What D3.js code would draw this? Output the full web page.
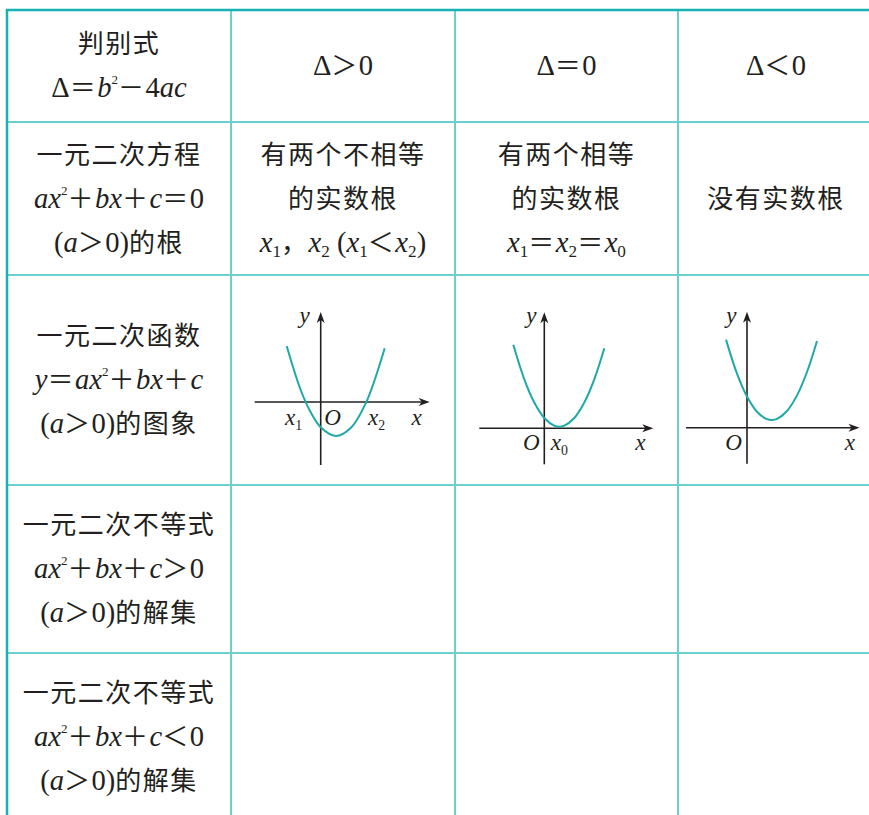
<!DOCTYPE html>
<html><head><meta charset="utf-8">
<script src="https://cdn.jsdelivr.net/npm/d3@7"></script>
<style>html,body{margin:0;padding:0;background:#fff;}svg{display:block;}</style>
</head><body>
<script>
// ---------- data ----------
const rowHeaders = [
  ["判别式", "Δ＝b^2－4ac"],
  ["一元二次方程", "ax^2＋bx＋c＝0", "(a＞0)的根"],
  ["一元二次函数", "y＝ax^2＋bx＋c", "(a＞0)的图象"],
  ["一元二次不等式", "ax^2＋bx＋c＞0", "(a＞0)的解集"],
  ["一元二次不等式", "ax^2＋bx＋c＜0", "(a＞0)的解集"]
];
const colHeaders = ["Δ＞0", "Δ＝0", "Δ＜0"];
const rootTexts = [
  ["有两个不相等", "的实数根", "x_1，x_2 (x_1＜x_2)"],
  ["有两个相等", "的实数根", "x_1＝x_2＝x_0"],
  ["没有实数根"]
];
// parabola points (axis units)
const curve1 = [[-3.4,5.6],[-2,1.2],[-1,-1.03],[0,-2.53],[1.5,-3.4],[3,-2.6],[4.5,-0.14],[6.4,5.38]];
const curve2 = [[-3.1,8.35],[-2,4.9],[-1,2.58],[0,1.03],[1,0.26],[1.5,0.16],[2,0.26],[3,1.03],[4,2.58],[5,4.9],[6,8.0]];
const curve3 = [[-2.1,8.81],[-1,5.41],[0,3.12],[1,1.6],[2,0.85],[2.5,0.77],[3,0.88],[4,1.67],[5,3.23],[6,5.57],[7,8.67]];
const curves = [curve1, curve2, curve3];
// axis extents (axis units)
const xExtents = [[-6.6,10.9],[-6.5,10.9],[-6.1,11.25]];
const yExtents = [[-6.3,9.0],[-3.6,11.6],[-3.6,11.6]];
// axis labels: [text, x, y] in axis units
const axisLabels = [
  [["y",-1.6,7.9],["x_1",-2.7,-2.3],["O",1.2,-2.3],["x_2",5.6,-2.3],["x",9.6,-2.3]],
  [["y",-1.3,10.5],["O",-1.3,-2.2],["x_0",1.5,-2.2],["x",9.6,-2.2]],
  [["y",-1.55,10.5],["O",-1.35,-2.2],["x",10.3,-2.2]]
];

// ---------- layout ----------
const W = 869, H = 815;
const colX = [7, 231, 455, 678, 874];
const rowY = [10, 122, 275, 485, 653, 821];
const lineGap = 44, fontSize = 26;
const ink = "#231f20";
const origins = [[320.7,402],[544.3,428.3],[747,427.7]];
const unit = 10;

const svg = d3.select("body").append("svg").attr("width", W).attr("height", H);

function cls(ch){
  if (/[a-zA-Z]/.test(ch)) return "it";
  if (/[0-9Δ() ]/.test(ch)) return "rm";
  return "cjk";
}
function rich(parent, x, y, str, size, opts={}){
  const t = parent.append("text").attr("x", x).attr("y", y)
    .attr("text-anchor", opts.anchor || "middle")
    .attr("fill", ink).style("font-size", size + "px");
  let off = 0, i = 0;
  const segs = [];
  while (i < str.length){
    const ch = str[i];
    if (ch === "^" || ch === "_"){
      segs.push({text: str[i+1], kind: ch === "^" ? "sup" : "sub"});
      i += 2; continue;
    }
    const k = cls(ch);
    const last = segs[segs.length-1];
    if (last && last.kind === k) last.text += ch; else segs.push({text: ch, kind: k});
    i++;
  }
  const ms = opts.mathScale || 1.1;
  segs.forEach(s => {
    const ts = t.append("tspan").text(s.text);
    let target = 0;
    if (s.kind === "sup"){ target = -0.5*size; ts.style("font-size", (0.5*size)+"px").style("font-family","Liberation Serif"); }
    else if (s.kind === "sub"){ target = 0.22*size; ts.style("font-size", (0.66*size)+"px").style("font-family","Liberation Serif"); }
    else if (s.kind === "it"){ ts.style("font-family","Liberation Serif").style("font-style","italic").style("font-size",(ms*size)+"px"); }
    else if (s.kind === "rm"){ ts.style("font-family","Liberation Serif").style("font-size",(ms*size)+"px").style("white-space","pre"); }
    else { ts.style("font-family","'Noto Sans CJK SC'").style("letter-spacing", opts.ls != null ? opts.ls+"px" : "1.5px"); }
    if (target !== off){ ts.attr("dy", target - off); off = target; }
  });
  return t;
}
function cellLines(cx, cy, lines){
  lines.forEach((s, i) => {
    const c = cy + (i - (lines.length-1)/2) * lineGap;
    rich(svg, cx, c + 9, s, fontSize);
  });
}

// grid
const grid = svg.append("g");
colX.slice(1,4).forEach(x => grid.append("line").attr("x1",x).attr("x2",x).attr("y1",rowY[0]).attr("y2",rowY[5])
  .attr("stroke","#6ccfcf").attr("stroke-width",2));
rowY.slice(1,5).forEach(y => grid.append("line").attr("x1",colX[0]).attr("x2",colX[4]).attr("y1",y).attr("y2",y)
  .attr("stroke","#6ccfcf").attr("stroke-width",2));
grid.append("line").attr("x1",colX[0]-1.25).attr("x2",colX[4]).attr("y1",rowY[0]).attr("y2",rowY[0]).attr("stroke","#14b2b2").attr("stroke-width",2.5);
grid.append("line").attr("x1",colX[0]).attr("x2",colX[0]).attr("y1",rowY[0]).attr("y2",rowY[5]).attr("stroke","#14b2b2").attr("stroke-width",2.5);

rowHeaders.forEach((lines, r) => cellLines((colX[0]+colX[1])/2, (rowY[r]+rowY[r+1])/2, lines));
colHeaders.forEach((s, c) => cellLines((colX[c+1]+colX[c+2])/2, (rowY[0]+rowY[1])/2, [s]));
rootTexts.forEach((lines, c) => cellLines((colX[c+1]+colX[c+2])/2, (rowY[1]+rowY[2])/2, lines));

function arrowPath(x, y, dir){
  const L = 11, w = 4, back = 8;
  if (dir === "right") return `M${x},${y} L${x-L},${y-w} L${x-back},${y} L${x-L},${y+w} Z`;
  return `M${x},${y} L${x-w},${y+L} L${x},${y+back} L${x+w},${y+L} Z`;
}
curves.forEach((pts, g) => {
  const [ox, oy] = origins[g];
  const xs = d3.scaleLinear().domain([0,1]).range([ox, ox+unit]);
  const ys = d3.scaleLinear().domain([0,1]).range([oy, oy-unit]);
  const gg = svg.append("g");
  const [xa, xb] = xExtents[g], [ya, yb] = yExtents[g];
  gg.append("line").attr("x1", xs(xa)).attr("x2", xs(xb)-6).attr("y1", ys(0)).attr("y2", ys(0)).attr("stroke", ink).attr("stroke-width", 1.6);
  gg.append("path").attr("d", arrowPath(xs(xb), ys(0), "right")).attr("fill", ink);
  gg.append("line").attr("x1", xs(0)).attr("x2", xs(0)).attr("y1", ys(ya)).attr("y2", ys(yb)+6).attr("stroke", ink).attr("stroke-width", 1.6);
  gg.append("path").attr("d", arrowPath(xs(0), ys(yb), "up")).attr("fill", ink);
  const line = d3.line().x(d => xs(d[0])).y(d => ys(d[1])).curve(d3.curveCatmullRom);
  gg.append("path").attr("d", line(pts)).attr("fill","none").attr("stroke","#1ea8a8").attr("stroke-width",2);
  axisLabels[g].forEach(([s, lx, ly]) => rich(gg, xs(lx), ys(ly), s, 21, {mathScale: 1.1}));
});
</script>
</body></html>
